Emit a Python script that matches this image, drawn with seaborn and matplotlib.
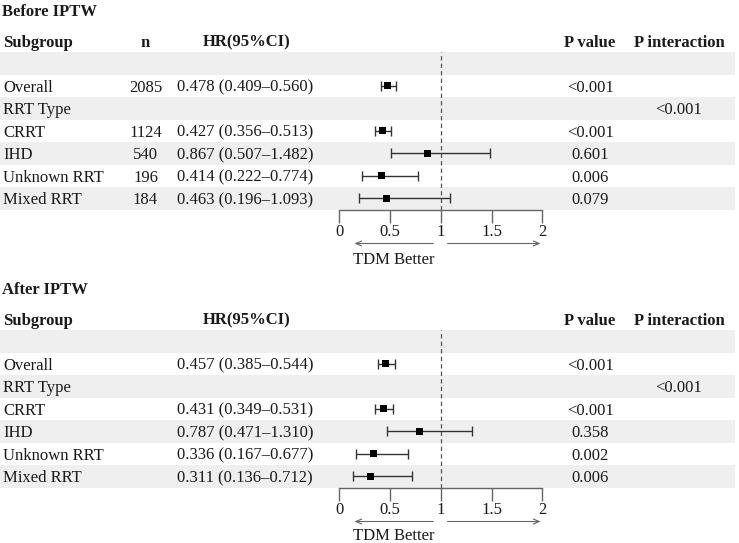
import numpy as np
import pandas as pd
import seaborn as sns
import matplotlib
matplotlib.use("Agg")
import matplotlib.pyplot as plt
import matplotlib.transforms as mtransforms

# ---------------- data ----------------
subgroups = ["", "Overall", "RRT Type", "CRRT", "IHD", "Unknown RRT", "Mixed RRT"]

before_n = ["", "2085", "", "1124", "540", "196", "184"]
before_hr = [np.nan, 0.478, np.nan, 0.427, 0.867, 0.414, 0.463]
before_lo = [np.nan, 0.409, np.nan, 0.356, 0.507, 0.222, 0.196]
before_hi = [np.nan, 0.560, np.nan, 0.513, 1.482, 0.774, 1.093]
before_p = ["", "<0.001", "", "<0.001", "0.601", "0.006", "0.079"]
before_pint = ["", "", "<0.001", "", "", "", ""]

after_hr = [np.nan, 0.457, np.nan, 0.431, 0.787, 0.336, 0.311]
after_lo = [np.nan, 0.385, np.nan, 0.349, 0.471, 0.167, 0.136]
after_hi = [np.nan, 0.544, np.nan, 0.531, 1.310, 0.677, 0.712]
after_p = ["", "<0.001", "", "<0.001", "0.358", "0.002", "0.006"]
after_pint = ["", "", "<0.001", "", "", "", ""]

xticks = [0, 0.5, 1, 1.5, 2]
xtick_labels = ["0", "0.5", "1", "1.5", "2"]
arrow_label = "TDM Better"

# ---------------- style ----------------
sns.set_theme(style="white")
plt.rcParams['font.family'] = ['Liberation Serif', 'DejaVu Serif']
plt.rcParams['font.size'] = 12
plt.rcParams['mathtext.default'] = 'regular'

W, H = 739, 543
fig = plt.figure(figsize=(W / 100, H / 100), dpi=100)

ROW_H = 22.5
NROWS = 7
SHADE = "#efefef"
TXT = "#1a1a1a"


def fmt_ci(h, l, u):
    if np.isnan(h):
        return ""
    return f"{h:.3f} ({l:.3f}\u2013{u:.3f})"


def panel(top_px, title, n_col, hr, lo, hi, pv, pint, label_off):
    bottom_frac = 1 - (top_px + ROW_H * NROWS) / H
    h_frac = ROW_H * NROWS / H
    # background / table axes (x in pixels)
    bg = fig.add_axes([0, bottom_frac, 1, h_frac])
    bg.set_xlim(0, W)
    bg.set_ylim(NROWS - 0.5, -0.5)
    bg.axis("off")
    for r in range(0, NROWS, 2):
        bg.axhspan(r - 0.5, r + 0.5, xmin=0, xmax=735 / W, color=SHADE, lw=0, zorder=0)

    df = pd.DataFrame({
        "row": np.arange(NROWS), "sub": subgroups, "hr": hr, "lo": lo, "hi": hi,
        "p": pv, "pint": pint,
    })
    if n_col is not None:
        df["n"] = n_col

    # title and header
    bg.text(2, -2.38, title, ha="left", va="center_baseline", fontweight="bold",
            color=TXT, clip_on=False)
    hdr_y = -1.0
    bg.text(3, hdr_y, "Subgroup", ha="left", va="center_baseline", fontweight="bold", color=TXT, clip_on=False)
    if n_col is not None:
        bg.text(145, hdr_y, "n", ha="center", va="center_baseline", fontweight="bold", color=TXT, clip_on=False)
    bg.text(247, hdr_y, "HR(95%CI)", ha="center", va="center_baseline", fontweight="bold", color=TXT, clip_on=False)
    bg.text(590, hdr_y, "P value", ha="center", va="center_baseline", fontweight="bold", color=TXT, clip_on=False)
    bg.text(679, hdr_y, "P interaction", ha="center", va="center_baseline", fontweight="bold", color=TXT, clip_on=False)

    for _, r in df.iterrows():
        y = r["row"]
        bg.text(3, y, r["sub"], ha="left", va="center_baseline", color=TXT)
        if n_col is not None:
            bg.text(145.5, y, r["n"], ha="center", va="center_baseline", color=TXT)
        bg.text(245, y, fmt_ci(r["hr"], r["lo"], r["hi"]), ha="center", va="center_baseline", color=TXT)
        bg.text(590, y, r["p"], ha="center", va="center_baseline", color=TXT)
        bg.text(678, y, r["pint"], ha="center", va="center_baseline", color=TXT)

    # forest axes
    x0 = 339.3 / W
    fw = 203.0 / W
    ax = fig.add_axes([x0, bottom_frac, fw, h_frac], facecolor="none")
    ax.set_xlim(0, 2)
    ax.set_ylim(NROWS - 0.5, -0.5)
    ax.axvline(1, color="#555555", lw=0.9, ls=(0, (3.5, 2.5)), zorder=1)
    d = df.dropna(subset=["hr"])
    ax.errorbar(d["hr"], d["row"], xerr=[d["hr"] - d["lo"], d["hi"] - d["hr"]],
                fmt="none", ecolor="#333333", elinewidth=1.0, capsize=3.8, capthick=1.0, zorder=2)
    sns.scatterplot(data=d, x="hr", y="row", marker="s", s=26, color="black",
                    edgecolor="none", ax=ax, zorder=3, legend=False)
    ax.set_xlabel("")
    ax.set_ylabel("")
    ax.set_yticks([])
    ax.set_xticks(xticks)
    ax.set_xticklabels(xtick_labels)
    for s in ["top", "left", "right"]:
        ax.spines[s].set_visible(False)
    ax.spines["bottom"].set_visible(True)
    ax.spines["bottom"].set_color("#666666")
    ax.spines["bottom"].set_linewidth(1.0)
    ax.tick_params(axis="x", direction="out", length=9, width=1.0, color="#666666",
                   labelsize=12, labelcolor=TXT, pad=1.5, bottom=True)
    ax.set_xlim(0, 2)

    # direction arrows
    trans = mtransforms.blended_transform_factory(ax.transData, ax.transAxes)
    ay = -34.0 / (ROW_H * NROWS)
    ax.annotate("", xy=(0.122, ay), xytext=(0.953, ay), xycoords=trans, textcoords=trans,
                arrowprops=dict(arrowstyle="->,head_length=0.35,head_width=0.15",
                                color="#666666", lw=0.8), annotation_clip=False)
    ax.annotate("", xy=(2.01, ay), xytext=(1.04, ay), xycoords=trans, textcoords=trans,
                arrowprops=dict(arrowstyle="->,head_length=0.35,head_width=0.15",
                                color="#666666", lw=0.8), annotation_clip=False)
    ty = -label_off / (ROW_H * NROWS)
    ax.text(0.537, ty, arrow_label, transform=trans, ha="center", va="center_baseline",
            color=TXT, clip_on=False)


panel(52.0, "Before IPTW", before_n, before_hr, before_lo, before_hi, before_p, before_pint, 48.0)
panel(330.0, "After IPTW", None, after_hr, after_lo, after_hi, after_p, after_pint, 46.0)

fig.savefig("out.png", dpi=100)
